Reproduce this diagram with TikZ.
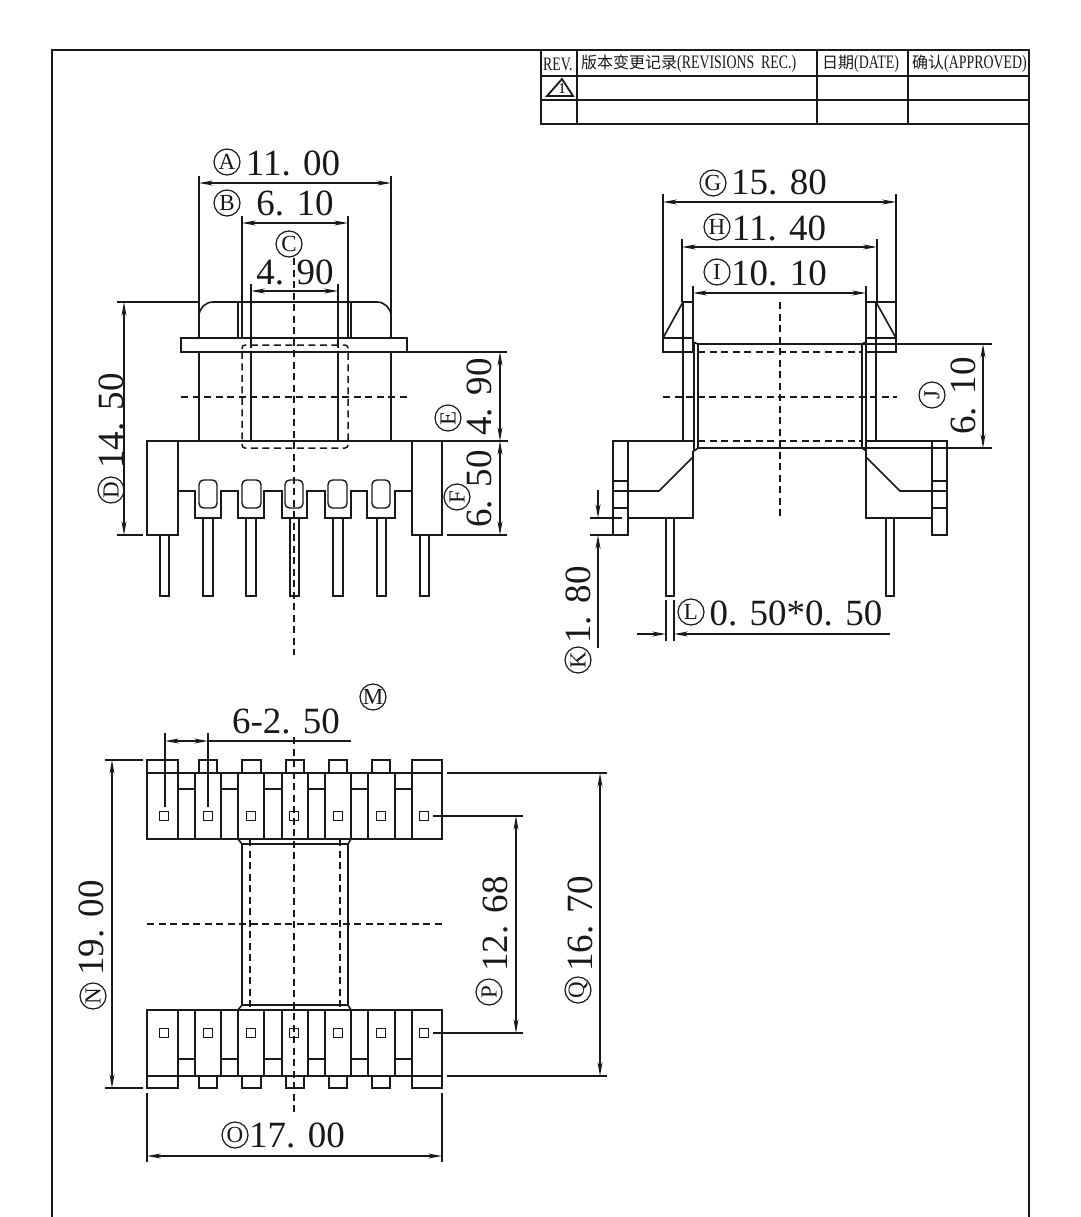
\documentclass[tikz,border=0pt]{standalone}
\usepackage{fontspec}
\setmainfont{Liberation Serif}
\newfontfamily\cjkfont{Noto Sans CJK SC}
\newfontfamily\narrowfont[FakeStretch=0.73]{Liberation Serif}
\usetikzlibrary{arrows.meta}
\tikzset{
  part/.style={line width=1.6pt,black!90,line join=miter},
  thin part/.style={line width=1.4pt,black!90},
  hid/.style={line width=1.5pt,black!90,dash pattern=on 7pt off 4.5pt},
  dimln/.style={line width=1.3pt,black!90},
  dimarr/.style={dimln,{Stealth[length=14pt,width=5pt]}-{Stealth[length=14pt,width=5pt]}},
  onearr/.style={dimln,-{Stealth[length=14pt,width=5pt]}},
  val/.style={inner sep=0pt,font=\fontsize{37}{37}\selectfont,text=black!90},
  letter/.style={circle,draw=black!90,line width=1.2pt,minimum size=26pt,inner sep=0pt,font=\fontsize{23}{23}\selectfont,text=black!90},
  headtxt/.style={inner sep=0pt,anchor=west,text=black!90,font=\fontsize{19}{19}\selectfont},
}
\newcommand{\lat}[1]{{\narrowfont #1}}
\newcommand{\hz}[1]{{\cjkfont\fontsize{16}{16}\selectfont #1}}
\begin{document}
\begin{tikzpicture}[x=1pt,y=-1pt]
\useasboundingbox[fill=white] (0,0) rectangle (1080,1217);
% ---------- sheet frame
\draw[part,line width=1.8pt] (52,1217) -- (52,50) -- (1029,50) -- (1029,1217);
% ---------- revision table
\draw[part] (541,50) -- (541,124) -- (1029,124);
\draw[part] (541,76) -- (1029,76) (541,100) -- (1029,100);
\draw[part] (577,50) -- (577,124) (817,50) -- (817,124) (908,50) -- (908,124);
\draw[part,line width=1.8pt] (547,96) -- (573,96) -- (562,79) -- cycle;
\node[inner sep=0pt,font=\fontsize{15}{15}\selectfont] (revmark) at (562,88.5) {1};
\node[headtxt] (h1) at (543,64) {\lat{REV.}};
\node[headtxt] (h2) at (581,64) {\hz{版本变更记录}\lat{(REVISIONS\ \ REC.)}};
\node[headtxt] (h3) at (822,64) {\hz{日期}\lat{(DATE)}};
\node[headtxt] (h4) at (912,64) {\hz{确认}\lat{(APPROVED)}};

% ---------- FRONT VIEW
\draw[part,rounded corners=14pt] (199,338) -- (199,302) -- (391,302) -- (391,338);
\draw[part] (181,338) rectangle (407,352);
\draw[part] (199,352) -- (199,441) (391,352) -- (391,441);
\draw[part] (238,302) -- (238,338) (351,302) -- (351,338);
\draw[part] (251,352) -- (251,441) (338,352) -- (338,441);
\draw[part,line width=2pt] (251,302) -- (251,348) (338,302) -- (338,348);
\draw[hid,rounded corners=3pt] (242,352) -- (242,345) -- (348,345) -- (348,448) -- (242,448) -- cycle;
\draw[part] (147,441) -- (442,441);
\draw[part] (147,441) rectangle (178,535);
\draw[part] (412,441) rectangle (442,535);
\draw[part] (178,491) -- (195,491) -- (195,518) -- (221,518) -- (221,491) -- (238,491) -- (238,518) -- (264,518) -- (264,491) -- (282,491) -- (282,518) -- (307,518) -- (307,491) -- (325,491) -- (325,518) -- (351,518) -- (351,491) -- (367,491) -- (367,518) -- (395,518) -- (395,491) -- (412,491);
\foreach \a/\b in {199/217,242/261,285/303,328/347,372/390}
  \draw[thin part,rounded corners=4.5pt] (\a,480) rectangle (\b,508);
\foreach \a/\b in {203/213,246/256,290/299,333/343,377/386}
  \draw[part] (\a,518) -- (\a,596) -- (\b,596) -- (\b,518);
\foreach \a/\b in {160/169,420/429}
  \draw[part] (\a,535) -- (\a,596) -- (\b,596) -- (\b,535);
\draw[hid] (294,258) -- (294,655);
\draw[hid] (181,397) -- (408,397);
% front dimensions
\draw[dimln] (199,176) -- (199,315) (391,176) -- (391,315);
\draw[dimarr] (199,183) -- (391,183);
\draw[dimln] (242,216) -- (242,338) (348,216) -- (348,338);
\draw[dimarr] (242,223) -- (348,223);
\draw[dimln] (251,284) -- (251,302) (338,284) -- (338,302);
\draw[dimarr] (251,291) -- (338,291);
\draw[dimln] (117,302) -- (199,302) (117,535) -- (143,535);
\draw[dimarr] (124,302) -- (124,535);
\draw[dimln] (407,352) -- (507,352) (442,441) -- (508,441) (447,535) -- (507,535);
\draw[dimarr] (500,352) -- (500,441);
\draw[dimarr] (500,441) -- (500,535);
\node[letter] (la) at (227,162) {A};
\node[val] (va) at (293,163) {11. 00};
\node[letter] (lb) at (227,203) {B};
\node[val] (vb) at (295,203) {6. 10};
\node[letter] (lc) at (289,244) {C};
\node[val] (vc) at (295,272) {4. 90};
\node[letter,rotate=90] (ld) at (111,490) {D};
\node[val,rotate=90] (vd) at (111,421) {14. 50};
\node[letter,rotate=90] (le) at (448,418) {E};
\node[val,rotate=90] (ve) at (479,397) {4. 90};
\node[letter,rotate=90] (lf) at (457,497) {F};
\node[val,rotate=90] (vf) at (479,489) {6. 50};

% ---------- SIDE VIEW
\draw[part] (683,441) -- (683,302) -- (693,302) -- (693,342);
\draw[part] (683,302) -- (663,338);
\draw[part] (663,338) rectangle (693,352);
\draw[part] (876,441) -- (876,302) -- (866,302) -- (866,342);
\draw[part] (876,302) -- (896,338);
\draw[part] (866,338) rectangle (896,352);
\draw[thin part] (876,302) -- (896,302) (896,302) -- (896,338);
\draw[part] (693,342) -- (698,344) -- (862,344) -- (866,342);
\draw[part] (694,342) -- (694,451) (698,344) -- (698,448);
\draw[part] (862,344) -- (862,448) (866,342) -- (866,451);
\draw[part] (694,451) -- (698,448) -- (862,448) -- (866,451);
\draw[hid] (698,352) -- (862,352) (698,441) -- (862,441);
% left base
\draw[part] (694,441) -- (613,441) -- (613,535) -- (628,535) -- (628,441);
\draw[part] (693,451) -- (693,518) -- (628,518);
\draw[part] (693,457) -- (659,491) -- (613,491);
\draw[thin part] (613,481) -- (628,481) (613,508) -- (628,508);
% right base
\draw[part] (866,441) -- (947,441) -- (947,535) -- (932,535) -- (932,441);
\draw[part] (866,451) -- (866,518) -- (932,518);
\draw[part] (866,457) -- (900,491) -- (947,491);
\draw[thin part] (932,481) -- (947,481) (932,508) -- (947,508);
% pins
\draw[part] (666,518) -- (666,596) -- (674,596) -- (674,518);
\draw[part] (886,518) -- (886,596) -- (894,596) -- (894,518);
\draw[hid] (780,302) -- (780,520);
\draw[hid] (663,397) -- (897,397);
% side dimensions
\draw[dimln] (663,194) -- (663,338) (896,194) -- (896,302);
\draw[dimarr] (663,202) -- (896,202);
\draw[dimln] (682,239) -- (682,302) (877,239) -- (877,302);
\draw[dimarr] (682,247) -- (877,247);
\draw[dimln] (693,286) -- (693,302) (866,286) -- (866,302);
\draw[dimarr] (693,293) -- (866,293);
\draw[dimln] (862,344) -- (992,344) (862,448) -- (992,448);
\draw[dimarr] (983,344) -- (983,448);
\draw[dimln] (590,518) -- (622,518) (590,535) -- (613,535);
\draw[onearr] (598,490) -- (598,518);
\draw[onearr] (598,648) -- (598,535);
\draw[dimln] (666,600) -- (666,641) (674,600) -- (674,641);
\draw[onearr] (637,634) -- (666,634);
\draw[onearr] (890,634) -- (674,634);
\node[letter] (lg) at (713,183) {G};
\node[val] (vg) at (779,182) {15. 80};
\node[letter] (lh) at (717,227) {H};
\node[val] (vh) at (779,228) {11. 40};
\node[letter] (li) at (717,272) {I};
\node[val] (vi) at (779,273) {10. 10};
\node[letter,rotate=90] (lj) at (932,395) {J};
\node[val,rotate=90] (vj) at (963,396) {6. 10};
\node[letter,rotate=90] (lk) at (578,660) {K};
\node[val,rotate=90] (vk) at (578,605) {1. 80};
\node[letter] (ll) at (691,612) {L};
\node[val] (vl) at (796,613) {0. 50*0. 50};

% ---------- BOTTOM VIEW
\foreach \ya/\yb/\yc/\yt/\yq/\ysq in {773/839/789/760/773/816,1010/1076/1059/1088/1076/1033}{
  \draw[part] (147,\ya) rectangle (442,\yb);
  \foreach \xx in {178,195,221,238,264,282,308,325,351,368,395,412}
    \draw[part] (\xx,\ya) -- (\xx,\yb);
  \foreach \a/\b in {178/195,221/238,264/282,308/325,351/368,395/412}
    \draw[part] (\a,\yc) -- (\b,\yc);
  \foreach \a/\b in {147/178,199/217,242/261,286/304,329/347,372/390,412/442}
    \draw[part] (\a,\yq) -- (\a,\yt) -- (\b,\yt) -- (\b,\yq);
  \foreach \xc in {164,208,251,294,338,381,424}
    \draw[thin part] (\xc-4.5,\ysq-4.5) rectangle (\xc+4.5,\ysq+4.5);
}
\draw[part] (238,839) -- (242,844) -- (348,844) -- (351,839);
\draw[part] (238,1010) -- (242,1005) -- (348,1005) -- (351,1010);
\draw[part] (242,844) -- (242,1005) (348,844) -- (348,1005);
\draw[hid] (250,839) -- (250,1010) (340,839) -- (340,1010);
\draw[hid] (294,737) -- (294,1115);
\draw[hid] (147,924) -- (444,924);
% bottom dimensions
\draw[dimln] (165,733) -- (165,807) (208,733) -- (208,807);
\draw[dimarr] (165,741) -- (208,741);
\draw[dimln] (208,741) -- (351,741);
\draw[dimln] (105,760) -- (143,760) (105,1088) -- (143,1088);
\draw[dimarr] (112,760) -- (112,1088);
\draw[dimln] (433,816) -- (523,816) (433,1033) -- (523,1033);
\draw[dimarr] (516,816) -- (516,1033);
\draw[dimln] (447,773) -- (607,773) (447,1076) -- (607,1076);
\draw[dimarr] (600,773) -- (600,1076);
\draw[dimln] (147,1093) -- (147,1162) (442,1093) -- (442,1162);
\draw[dimarr] (147,1156) -- (442,1156);
\node[val] (vm) at (286,721) {6-2. 50};
\node[letter] (lm) at (373,697) {M};
\node[letter,rotate=90] (ln) at (93,996) {N};
\node[val,rotate=90] (vn) at (91,928) {19. 00};
\node[letter,rotate=90] (lp) at (489,992) {P};
\node[val,rotate=90] (vp) at (495,924) {12. 68};
\node[letter,rotate=90] (lq) at (578,990) {Q};
\node[val,rotate=90] (vq) at (580,924) {16. 70};
\node[letter] (lo) at (235,1135) {O};
\node[val] (vo) at (297,1135) {17. 00};
\end{tikzpicture}
\end{document}
